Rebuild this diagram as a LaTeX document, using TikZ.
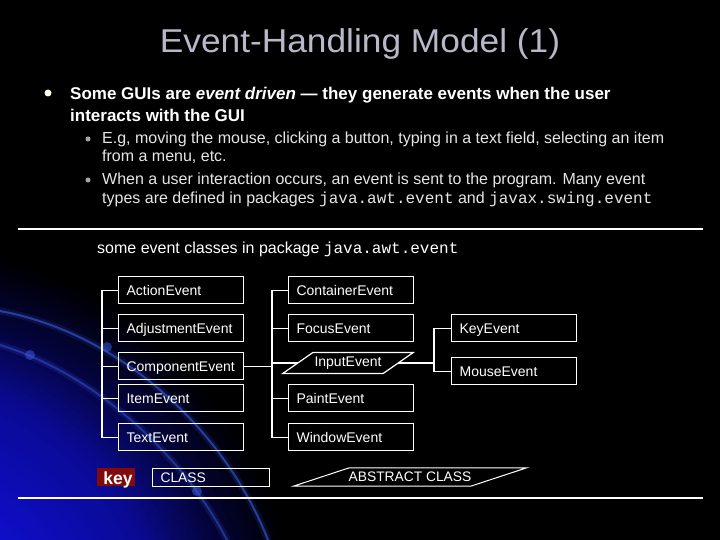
\documentclass[tikz,border=0pt]{standalone}
\usepackage{fontspec}
\setmainfont{Liberation Sans}
\setmonofont{Liberation Mono}
\usetikzlibrary{calc}
\definecolor{titlecol}{HTML}{B8B8C8}
\definecolor{subcol}{HTML}{E6E6E6}
\definecolor{keyred}{HTML}{820A0A}
\definecolor{arccol}{HTML}{3C5CE0}
\begin{document}
\begin{tikzpicture}[x=1pt,y=-1pt,
  cls/.style={draw=white, line width=1.2pt, anchor=north west, minimum height=27pt,
    text width=109pt, inner xsep=8pt, inner ysep=0pt, align=left, text=white,
    font=\fontsize{14}{16}\selectfont, text height=10pt, text depth=0pt},
  absnode/.style={inner sep=0pt, text=white, font=\fontsize{14}{16}\selectfont},
  conn/.style={draw=white, line width=1.2pt},
  rule/.style={draw=white, line width=1.4pt},
  arcline/.style={draw=arccol, line width=2pt, opacity=0.6, line cap=round},
  arcglow/.style={draw=arccol, line width=7pt, opacity=0.15, line cap=round},
  maintext/.style={anchor=base west, inner sep=0pt, text=white, font=\bfseries\fontsize{17}{20}\selectfont},
  subtext/.style={anchor=base west, inner sep=0pt, text=subcol, font=\fontsize{16}{19}\selectfont}
]
\useasboundingbox (0,0) rectangle (720,540);
\fill[black] (0,0) rectangle (720,540);
\begin{scope}
  \clip (0,0) rectangle (720,540);
  \foreach \r in {420,414,...,0} {
    \pgfmathsetmacro{\bb}{\r<=150 ? 200 : (\r<=260 ? 200-(\r-150)/110*50 : (\r<=330 ? 150-(\r-260)/70*90 : max(0,60-(\r-330)/70*60)))}
    \pgfmathtruncatemacro{\bi}{\bb}
    \pgfmathtruncatemacro{\ri}{\bb/14}
    \definecolor{bgtmp}{RGB}{\ri,\ri,\bi}
    \fill[bgtmp] (-100,640) circle (\r);
  }
  \draw[arcglow] (0,311) .. controls (120,333) and (225,430) .. (268,540);
  \draw[arcline] (0,311) .. controls (120,333) and (225,430) .. (268,540);
  \draw[arcglow] (0,345) .. controls (90,372) and (180,450) .. (227,540);
  \draw[arcline, opacity=0.45] (0,345) .. controls (90,372) and (180,450) .. (227,540);
  \fill[arccol, opacity=0.5] (107,347) circle (5);
  \fill[arccol, opacity=0.5] (30,355) circle (5);
  \fill[arccol, opacity=0.5] (197,491) circle (5);
\end{scope}

% title
\node[anchor=base, inner sep=0pt, text=titlecol, font=\fontsize{33}{38}\selectfont, xscale=1.07] (title) at (360,52.5) {Event-Handling Model (1)};

% bullets
\fill[white!90!yellow] (48,93) circle (3.5);
\node[maintext] (b1a) at (70,100) {Some GUIs are \textit{event driven} --- they generate events when the user};
\node[maintext] (b1b) at (70,122) {interacts with the GUI};
\fill[gray!70!white] (88,139) circle (2.5);
\node[subtext] (s1a) at (102,144) {E.g, moving the mouse, clicking a button, typing in a text field, selecting an item};
\node[subtext] (s1b) at (102,162) {from a menu, etc.};
\fill[gray!70!white] (88,180) circle (2.5);
\node[subtext] (s2a) at (102,185) {When a user interaction occurs, an event is sent to the program. Many event};
\node[subtext] (s2b) at (102,204) {types are defined in packages {\ttfamily\fontsize{16}{18}\selectfont java.awt.event} and {\ttfamily\fontsize{16}{18}\selectfont javax.swing.event}};

% rules
\coordinate (r1l) at (18,229);
\coordinate (r1r) at (703,229);
\draw[rule] (r1l) -- (r1r);
\coordinate (r2l) at (18,498);
\coordinate (r2r) at (703,498);
\draw[rule] (r2l) -- (r2r);

\node[subtext, text=white] (caption) at (97,253) {some event classes in package {\ttfamily\fontsize{16}{18}\selectfont java.awt.event}};

% left column
\node[cls] (action) at (118,276) {ActionEvent};
\node[cls] (adjust) at (118,314) {AdjustmentEvent};
\node[cls] (component) at (118,352) {ComponentEvent};
\node[cls] (item) at (118,384) {ItemEvent};
\node[cls] (textev) at (118,423) {TextEvent};

% right column
\node[cls] (container) at (288,276) {ContainerEvent};
\node[cls] (focus) at (288,314) {FocusEvent};
\node[absnode, minimum width=100pt, minimum height=20.5pt] (input) at (348,363) {InputEvent};
\draw[conn] ($(input.south west)+(-15,0)$) -- ($(input.north west)+(15,0)$) -- ($(input.north east)+(15,0)$) -- ($(input.south east)+(-15,0)$) -- cycle;
\node[cls] (paint) at (288,384) {PaintEvent};
\node[cls] (window) at (288,423) {WindowEvent};

% third column
\node[cls] (keyev) at (451,314) {KeyEvent};
\node[cls] (mouse) at (451,357) {MouseEvent};

% connectors
\coordinate (lb) at (102,0);
\coordinate (rb) at (272,0);
\coordinate (kb) at (434,0);
\draw[conn] (action.west) -- (action.west -| lb) |- (textev.west);
\draw[conn] (adjust.west) -- (adjust.west -| lb);
\draw[conn] (component.west) -- (component.west -| lb);
\draw[conn] (item.west) -- (item.west -| lb);
\draw[conn] (container.west) -- (container.west -| rb) |- (window.west);
\draw[conn] (focus.west) -- (focus.west -| rb);
\draw[conn] (paint.west) -- (paint.west -| rb);
\draw[conn] (input.west) -- (input.west -| rb);
\draw[conn] (component.east) -- (component.east -| rb);
\draw[conn] (keyev.west) -- (keyev.west -| kb) |- (mouse.west);
\draw[conn] (input.east) -- (input.east -| kb);

% key legend
\node[fill=keyred, minimum width=38pt, minimum height=18pt, inner sep=0pt] (keybox) at (116,477) {};
\node[inner sep=0pt, text=white, font=\bfseries\fontsize{17.5}{20}\selectfont, anchor=base] (keytxt) at (118,484) {key};
\node[cls, minimum height=18pt, text width=101pt, font=\fontsize{13.8}{16}\selectfont] (classkey) at (152,468) {CLASS};
\node[absnode, font=\fontsize{13.8}{16}\selectfont, minimum width=177pt, minimum height=18pt] (abskey) at (410,477) {ABSTRACT CLASS};
\draw[draw=white, line width=1pt] ($(abskey.south west)+(-28,0)$) -- ($(abskey.north west)+(28,0)$) -- ($(abskey.north east)+(28,0)$) -- ($(abskey.south east)+(-28,0)$) -- cycle;
\end{tikzpicture}
\end{document}
